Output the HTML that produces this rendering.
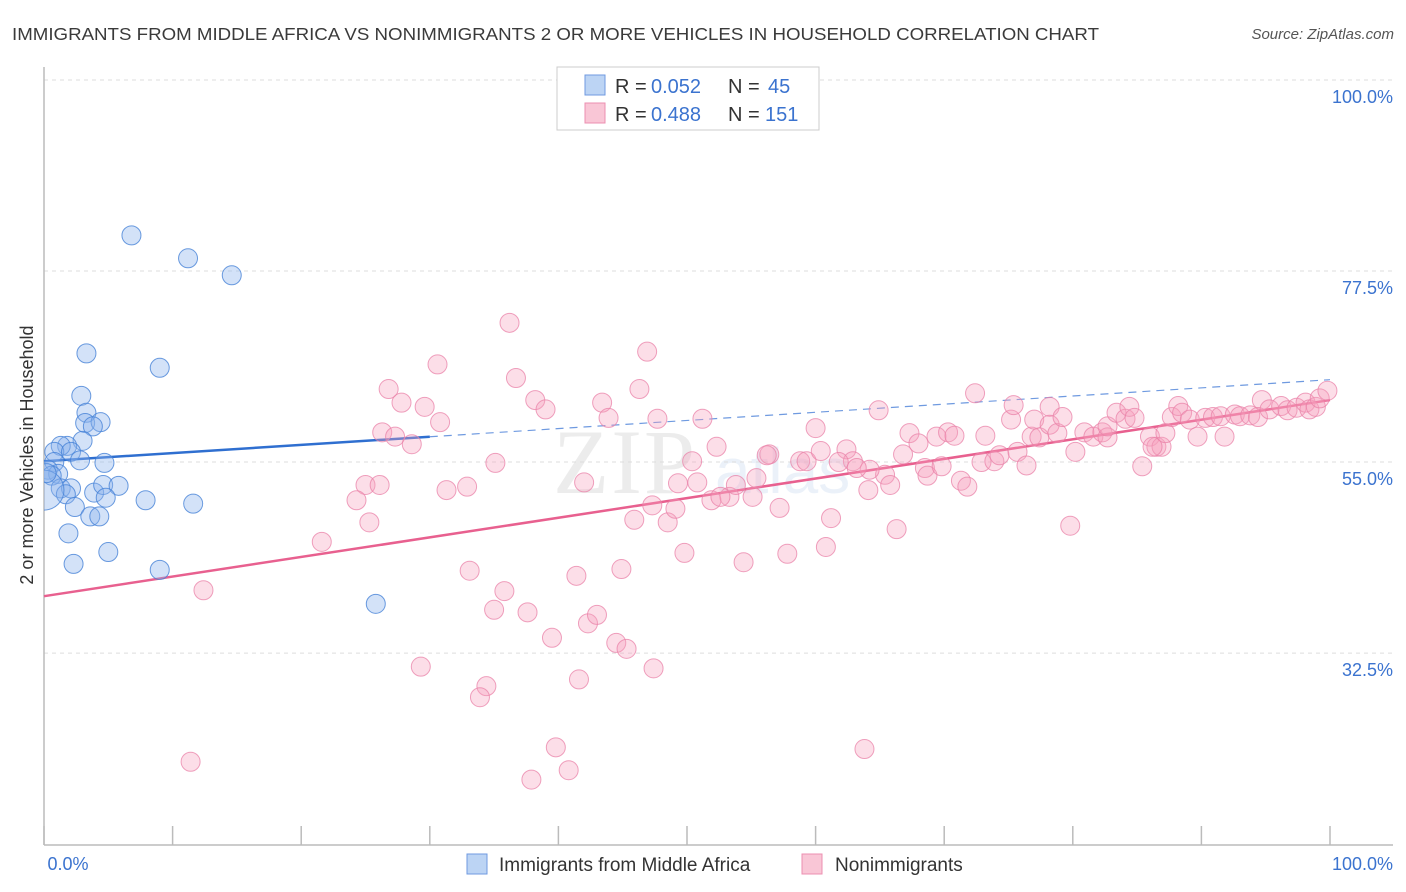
<!DOCTYPE html>
<html><head><meta charset="utf-8"><style>
body{margin:0;background:#fff;font-family:"Liberation Sans",sans-serif;}
svg{display:block}
</style></head><body>
<svg id="chart" width="1406" height="892" xmlns="http://www.w3.org/2000/svg">
<defs><clipPath id="plotclip"><rect x="44" y="60" width="1360" height="786"/></clipPath></defs>
<text x="12" y="40" font-size="17.5" fill="#3a3a3a" textLength="1087" lengthAdjust="spacingAndGlyphs">IMMIGRANTS FROM MIDDLE AFRICA VS NONIMMIGRANTS 2 OR MORE VEHICLES IN HOUSEHOLD CORRELATION CHART</text>
<text x="1394" y="39" font-size="15" fill="#555" font-style="italic" text-anchor="end">Source: ZipAtlas.com</text>
<g opacity="0.13">
<text x="553" y="493" font-size="92" font-family="Liberation Serif,serif" fill="#777" letter-spacing="2">ZIP</text>
<text x="715" y="493" font-size="64" fill="#6a9ad8">atlas</text>
</g>
<g id="grid"></g>
<g id="axes"></g>
<g id="trend"></g>
<g id="pts" clip-path="url(#plotclip)"></g>
<g>
<rect x="557" y="67" width="262" height="63" fill="#fff" stroke="#ccc"/>
<rect x="585" y="75" width="20" height="20" fill="#bcd4f4" stroke="#6f9ae0"/>
<rect x="585" y="103" width="20" height="20" fill="#f9c6d6" stroke="#ec8fb0"/>
<text y="93" font-size="20" fill="#333"><tspan x="615">R =</tspan><tspan x="651" fill="#3b73cf">0.052</tspan><tspan x="728">N =</tspan><tspan x="768" fill="#3b73cf">45</tspan></text>
<text y="121" font-size="20" fill="#333"><tspan x="615">R =</tspan><tspan x="651" fill="#3b73cf">0.488</tspan><tspan x="728">N =</tspan><tspan x="765" fill="#3b73cf">151</tspan></text>
</g>
<text transform="translate(33,455) rotate(-90)" font-size="18" fill="#333" text-anchor="middle">2 or more Vehicles in Household</text>
<g>
<rect x="467" y="854" width="20" height="20" fill="#bcd4f4" stroke="#6f9ae0"/>
<text x="499" y="871" font-size="19" fill="#333">Immigrants from Middle Africa</text>
<rect x="802" y="854" width="20" height="20" fill="#f9c6d6" stroke="#ec8fb0"/>
<text x="835" y="871" font-size="19" fill="#333">Nonimmigrants</text>
</g>
</svg>
<script>
const yTicks=[100,77.5,55,32.5];
const yTickLabels=["100.0%","77.5%","55.0%","32.5%"];
const xTicks=[0,10,20,30,40,50,60,70,80,90,100];
const xTickLabels=["0.0%","100.0%"];
const blueX=[6.8,11.2,14.6,3.3,9.0,2.9,3.3,3.2,4.4,3.8,3.0,1.8,1.3,0.8,2.1,2.8,4.7,0.8,0.3,1.1,0.6,1.3,2.1,1.7,3.9,4.6,5.8,4.8,7.9,11.6,2.4,3.6,4.3,1.9,5.0,2.3,9.0,25.8,0.0,0.2];
const blueY=[81.7,79.0,77.0,67.8,66.1,62.8,60.8,59.6,59.7,59.2,57.5,56.9,56.9,56.2,56.2,55.2,54.9,55.0,54.1,53.6,53.4,51.9,51.9,51.2,51.4,52.3,52.2,50.8,50.5,50.1,49.7,48.6,48.6,46.6,44.4,43.0,42.3,38.3,51.7,53.7];
const pinkX=[36.2,30.6,46.9,36.7,26.8,46.3,38.2,27.8,29.6,39.0,43.4,30.8,26.3,27.3,28.6,47.7,43.9,51.2,35.1,25.0,26.1,24.3,31.3,32.9,25.3,21.6,12.4,33.1,35.8,35.0,37.6,41.4,39.5,42.3,43.0,44.9,44.5,45.3,47.4,29.3,34.4,33.9,41.6,39.8,40.8,37.9,11.4,63.8,79.8,45.9,48.5,49.8,54.4,57.8,60.8,61.2,66.3,57.2,49.1,51.9,53.3,55.1,52.6,53.8,55.4,49.3,50.8,52.3,50.4,56.4,56.2,58.8,59.3,60.4,62.4,62.9,61.8,64.1,65.4,65.8,64.2,66.8,67.3,68.0,68.5,68.7,69.8,69.4,70.3,70.8,71.3,71.8,72.4,73.2,72.9,73.9,74.3,75.2,75.7,75.4,76.4,76.8,77.4,77.0,78.2,78.2,78.8,79.2,80.2,80.9,81.6,82.3,82.7,82.7,83.4,84.1,84.4,84.8,86.0,86.5,86.9,86.2,85.4,87.2,87.7,88.2,88.5,89.1,89.7,90.3,90.9,91.5,91.8,92.6,93.0,93.8,94.7,94.4,95.3,96.2,96.7,97.4,98.1,98.4,98.9,99.2,99.8,60.0,63.2,64.9,47.3,42.0];
const pinkY=[71.4,66.5,68.0,64.9,63.6,63.6,62.3,62.0,61.5,61.2,62.0,59.7,58.5,58.0,57.1,60.1,60.2,60.1,54.9,52.3,52.3,50.5,51.7,52.1,47.9,45.6,39.9,42.2,39.8,37.6,37.3,41.6,34.3,36.0,37.0,42.4,33.7,33.0,30.7,30.9,28.6,27.3,29.4,21.4,18.7,17.6,19.7,21.2,47.5,48.2,47.9,44.3,43.2,44.2,45.0,48.4,47.1,49.6,49.5,50.5,50.9,50.9,50.9,52.3,53.1,52.5,52.6,56.8,55.1,55.9,55.8,55.1,55.1,56.3,56.5,55.1,55.0,51.7,53.5,52.3,54.1,55.9,58.4,57.2,54.3,53.4,54.5,58.0,58.5,58.1,52.8,52.1,63.1,58.1,55.0,55.1,55.8,60.0,56.2,61.7,54.6,58.0,57.9,60.0,61.5,59.4,58.4,60.3,56.2,58.5,58.0,58.5,57.9,59.2,60.8,60.1,61.5,60.2,58.0,56.8,56.8,56.8,54.5,58.4,60.3,61.6,60.8,60.0,58.0,60.2,60.3,60.4,58.0,60.6,60.4,60.5,62.3,60.3,61.2,61.6,61.1,61.4,62.0,61.2,61.5,62.5,63.4,59.0,54.3,61.1,49.9,52.6];
const blueTrend=[55.1,64.7]; // value at x=0 and x=100
const blueSolidEnd=30;
const pinkTrend=[39.2,62.3];

const NS="http://www.w3.org/2000/svg";
const X=v=>44+v*12.86;
const Y=v=>80+(100-v)*8.49;
function mk(tag,attrs,parent){const e=document.createElementNS(NS,tag);for(const k in attrs)e.setAttribute(k,attrs[k]);parent.appendChild(e);return e;}
const grid=document.getElementById('grid'),axes=document.getElementById('axes'),trend=document.getElementById('trend'),pts=document.getElementById('pts');
yTicks.forEach((t,i)=>{
 const l=mk('line',{x1:44,x2:1393,y1:Y(t),y2:Y(t),stroke:'#ddd','stroke-dasharray':'4,4'},grid);
 
 
 const tx=mk('text',{x:1393,y:Y(t)+23,'font-size':18,fill:'#3b73cf','text-anchor':'end'},axes);
 tx.textContent=yTickLabels[i];
 
 
});
const al=mk('line',{x1:44,x2:44,y1:67,y2:845,stroke:'#bbb','stroke-width':1.5},axes);


const bl=mk('line',{x1:44,x2:1393,y1:845,y2:845,stroke:'#bbb','stroke-width':1.5},axes);


xTicks.forEach(t=>{
 const tk=mk('line',{x1:X(t),x2:X(t),y1:826,y2:845,stroke:'#bbb','stroke-width':1.5},axes);
 
 
});
[[0,68,'middle'],[100,1393,'end']].forEach((a,i)=>{
 const tx=mk('text',{x:a[1],y:870,'font-size':18,fill:'#3b73cf','text-anchor':a[2]},axes);
 tx.textContent=xTickLabels[i];
 
 
});
pinkX.forEach((v,i)=>{
 const c=mk('circle',{cx:X(v),cy:Y(pinkY[i]),r:9.5,fill:'rgba(246,160,190,0.35)',stroke:'rgba(234,130,168,0.75)','stroke-width':1},pts);
 
 
});
blueX.forEach((v,i)=>{
 const r=(i===blueX.length-2)?20:9.5;
 const c=mk('circle',{cx:X(v),cy:Y(blueY[i]),r:r,fill:'rgba(140,180,236,0.38)',stroke:'rgba(70,130,215,0.8)','stroke-width':1},pts);
 
 
});
const bAt=x=>blueTrend[0]+(blueTrend[1]-blueTrend[0])*x/100;
const pAt=x=>pinkTrend[0]+(pinkTrend[1]-pinkTrend[0])*x/100;
const t1=mk('line',{x1:X(0),y1:Y(pAt(0)),x2:X(100),y2:Y(pAt(100)),stroke:'#e8608f','stroke-width':2.5},trend);


const t2=mk('line',{x1:X(blueSolidEnd),y1:Y(bAt(blueSolidEnd)),x2:X(100),y2:Y(bAt(100)),stroke:'#6f9ae0','stroke-width':1.2,'stroke-dasharray':'8,6'},trend);


const t3=mk('line',{x1:X(0),y1:Y(bAt(0)),x2:X(blueSolidEnd),y2:Y(bAt(blueSolidEnd)),stroke:'#2f6fd0','stroke-width':2.5},trend);


</script>
</body></html>
